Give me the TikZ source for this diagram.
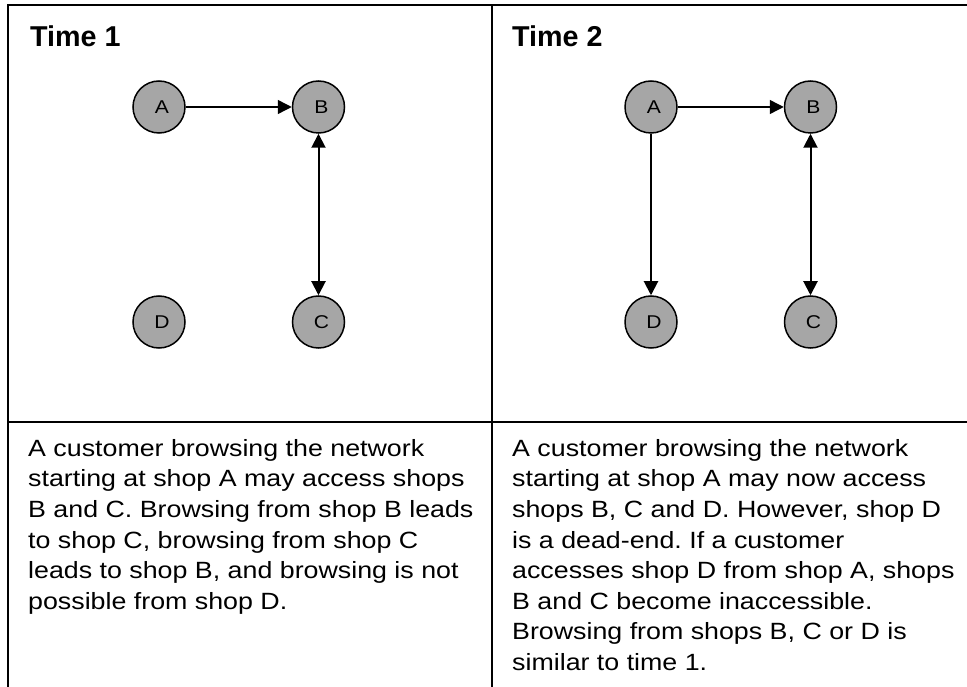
\documentclass[tikz,border=0pt]{standalone}
\usepackage{fontspec}
\setmainfont{Liberation Sans}
\newfontfamily\bodyfont[FakeStretch=1.14]{Liberation Sans}
\usetikzlibrary{arrows.meta}
\definecolor{nodegray}{HTML}{A6A6A6}
\tikzset{
  frameline/.style={line width=2pt, draw=black},
  shop/.style={circle, draw=black, line width=1.5pt, fill=nodegray, minimum size=52pt, inner sep=0pt,
    font=\bodyfont\fontsize{18.5}{22}\selectfont},
  title/.style={anchor=base west, inner sep=0pt, font=\fontsize{28.7}{34}\selectfont\bfseries},
  body/.style={anchor=north west, inner sep=0pt, align=left, font=\bodyfont\fontsize{23.5}{30.6}\selectfont\frenchspacing},
  link/.style={line width=1.4pt, -{Triangle[length=14pt,width=14pt]}},
  biglink/.style={line width=2pt, {Triangle[length=14pt,width=14pt]}-{Triangle[length=14pt,width=14pt]}},
  downlink/.style={line width=2pt, -{Triangle[length=14pt,width=14pt]}}
}
\begin{document}
\frenchspacing
\begin{tikzpicture}[x=1pt,y=-1pt]
\path[use as bounding box] (0,0) rectangle (967,687);
% frame
\draw[frameline] (8,687) -- (8,5) -- (967,5);
\draw[frameline] (492,5) -- (492,687);
\draw[frameline] (8,422) -- (967,422);
% titles
\node[title] (t1) at (30,47) {Time 1};
\node[title] (t2) at (512,47) {Time 2};
% time 1 graph
\node[shop] (A1) at (159,107) {\hspace{6pt}A};
\node[shop] (B1) at (318.5,107) {\hspace{6pt}B};
\node[shop] (D1) at (159,322) {\hspace{6pt}D};
\node[shop] (C1) at (318.5,322) {\hspace{6pt}C};
\draw[link] (A1) -- (B1);
\draw[biglink] (B1) -- (C1);
% time 2 graph
\node[shop] (A2) at (651,107) {\hspace{6pt}A};
\node[shop] (B2) at (810.5,107) {\hspace{6pt}B};
\node[shop] (D2) at (651,322) {\hspace{6pt}D};
\node[shop] (C2) at (810.5,322) {\hspace{6pt}C};
\draw[link] (A2) -- (B2);
\draw[downlink] (A2) -- (D2);
\draw[biglink] (B2) -- (C2);
% descriptions
\node[body] (txt1) at (28,439) {A customer browsing the network\\
starting at shop A may access shops\\
B and C. Browsing from shop B leads\\
to shop C, browsing from shop C\\
leads to shop B, and browsing is not\\
possible from shop D.};
\node[body] (txt2) at (512,439) {A customer browsing the network\\
starting at shop A may now access\\
shops B, C and D. However, shop D\\
is a dead-end. If a customer\\
accesses shop D from shop A, shops\\
B and C become inaccessible.\\
Browsing from shops B, C or D is\\
similar to time 1.};
\end{tikzpicture}
\end{document}
